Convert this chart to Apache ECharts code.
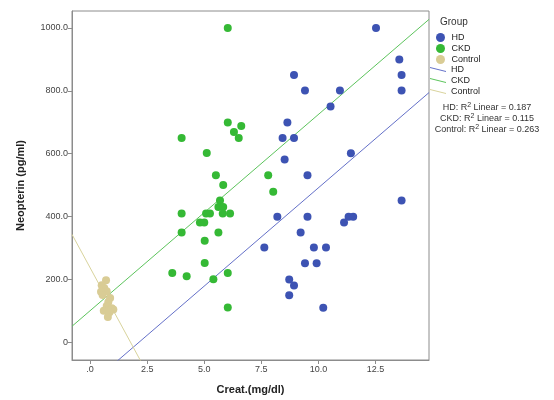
<!DOCTYPE html>
<html>
<head>
<meta charset="utf-8">
<script src="https://cdn.jsdelivr.net/npm/echarts@6/dist/echarts.min.js"></script>
<style>html,body{margin:0;padding:0;background:#fff}#c{width:554px;height:400px}</style>
</head>
<body>
<div id="c"></div>
<script>
// ---- data ----
var hdData = [
  [12.52,1000],[13.54,900],[13.64,850],[8.93,850],[9.41,801],[10.94,801],[13.64,801],
  [10.53,750],[8.64,699],[8.43,650],[8.93,650],[11.42,601],[8.52,581],[9.52,531],
  [13.64,451],[8.20,399],[9.52,399],[11.32,399],[11.52,399],[11.12,381],[9.22,349],
  [7.63,301],[9.80,301],[10.33,301],[9.41,251],[9.92,251],[8.72,199],[8.93,180],
  [8.72,149],[10.21,109]
];
var ckdData = [
  [6.03,1000],[6.03,699],[4.01,650],[6.30,669],[6.62,688],[6.51,650],[5.11,602],
  [5.51,531],[5.83,500],[7.80,531],[8.02,479],[5.69,451],[5.62,430],[5.83,430],
  [4.01,409],[5.08,409],[5.25,409],[5.81,409],[6.13,409],[4.81,381],[5.00,381],
  [4.01,349],[5.62,349],[5.02,323],[5.02,252],[3.60,220],[4.23,210],[5.40,200],
  [6.03,220],[6.03,110]
];
var controlData = [
  [0.70,197],[0.51,181],[0.62,172],[0.73,162],[0.48,160],[0.55,150],[0.88,140],
  [0.80,128],[0.73,115],[0.95,108],[1.02,104],[0.60,100],[0.85,95],[0.78,80]
];
var groupNames = ['HD','CKD','Control'];
// linear fits: [intercept, slope]
var hdFit = [-134.7, 62.6];
var ckdFit = [99.8, 62.5];
var controlFit = [237, -134];
var r2Values = ['0.187','0.115','0.263'];
var xTicks = [0, 2.5, 5, 7.5, 10, 12.5];
var yTicks = [0, 200, 400, 600, 800, 1000];
var xRange = [-0.79, 14.84];
var yRange = [-57, 1054];

var colors = {HD:'#3d53b3', CKD:'#35b935', Control:'#d9cc95'};
var lineColors = {HD:'#6470c8', CKD:'#5cc45c', Control:'#d8d39c'};

function fitLine(f){
  return [[xRange[0], f[0] + f[1]*xRange[0]], [xRange[1], f[0] + f[1]*xRange[1]]];
}

var FONT = '"Liberation Sans", Arial, sans-serif';
var chart = echarts.init(document.getElementById('c'), null, {renderer:'canvas'});

var scatterSets = [hdData, ckdData, controlData];
var fits = [hdFit, ckdFit, controlFit];
var series = [];
groupNames.forEach(function(g, i){
  series.push({
    name: g, type: 'scatter', data: scatterSets[i], symbolSize: 8,
    itemStyle: {color: colors[g], opacity: 1}, z: 3
  });
});
groupNames.forEach(function(g, i){
  series.push({
    name: g + ' fit', type: 'line', data: fitLine(fits[i]), symbol: 'none', clip: true,
    lineStyle: {color: lineColors[g], width: 1}, itemStyle: {color: lineColors[g]}, z: 2
  });
});

var option = {
  animation: false,
  backgroundColor: '#fff',
  grid: {left: 72, top: 11, right: 125, bottom: 36, show: true, borderColor: '#8c8c8c', borderWidth: 1, containLabel: false},
  xAxis: {
    type: 'value', min: xRange[0], max: xRange[1],
    name: 'Creat.(mg/dl)', nameLocation: 'middle', nameGap: 24,
    nameTextStyle: {fontFamily: FONT, fontWeight: 'bold', fontSize: 11, color: '#222'},
    axisLine: {show: true, onZero: false, lineStyle: {color: '#8c8c8c'}},
    axisTick: {show: true, length: 4, customValues: xTicks, lineStyle: {color: '#8c8c8c'}},
    axisLabel: {customValues: xTicks, fontFamily: FONT, fontSize: 9, color: '#444', margin: 5,
      formatter: function(v){ return v === 0 ? '.0' : v.toFixed(1); }},
    splitLine: {show: false}
  },
  yAxis: {
    type: 'value', min: yRange[0], max: yRange[1],
    name: 'Neopterin (pg/ml)', nameLocation: 'middle', nameGap: 46, nameRotate: 90,
    nameTextStyle: {fontFamily: FONT, fontWeight: 'bold', fontSize: 11, color: '#222'},
    axisLine: {show: true, onZero: false, lineStyle: {color: '#8c8c8c'}},
    axisTick: {show: true, length: 4, customValues: yTicks, lineStyle: {color: '#8c8c8c'}},
    axisLabel: {customValues: yTicks, fontFamily: FONT, fontSize: 9, color: '#444', margin: 4,
      formatter: function(v){ return v === 0 ? '0' : v.toFixed(1); }},
    splitLine: {show: false}
  },
  legend: [
    {
      data: groupNames, orient: 'vertical', left: 436, top: 33, padding: 0, itemGap: 2,
      itemWidth: 12, itemHeight: 9, icon: 'circle', selectedMode: false,
      textStyle: {fontFamily: FONT, fontSize: 9, color: '#222'}
    },
    {
      data: groupNames.map(function(g){ return g + ' fit'; }), orient: 'vertical', left: 430, top: 65, padding: 0, itemGap: 2,
      itemWidth: 16, itemHeight: 10, icon: 'path://M0,0 L16,4 L16,5 L0,1 Z', selectedMode: false,
      formatter: function(n){ return n.replace(' fit',''); },
      textStyle: {fontFamily: FONT, fontSize: 9, color: '#222'}
    }
  ],
  graphic: [
    {type: 'text', left: 440, top: 17, style: {text: 'Group', font: '10px ' + FONT, fill: '#333'}},
    {type: 'group', children: groupNames.map(function(g, i){
      return {type: 'text', x: 487, y: 108 + i*11,
        style: {text: g + ': R{s|2} Linear = ' + r2Values[i], font: '9px ' + FONT, fill: '#333',
          align: 'center', verticalAlign: 'middle',
          rich: {s: {fontSize: 7, verticalAlign: 'top', padding: [0,0,5,0], fill: '#333'}}}};
    })}
  ],
  series: series
};
chart.setOption(option);
</script>
</body>
</html>
